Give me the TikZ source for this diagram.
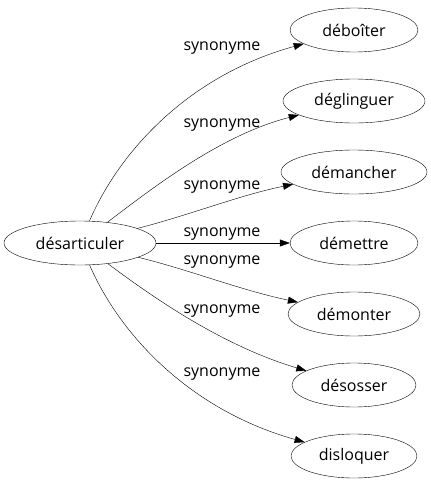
\documentclass[tikz,border=0pt]{standalone}
\usepackage{fontspec}
\setmainfont{Open Sans}
\usepackage{tikz}
\usetikzlibrary{shapes.geometric,arrows.meta}

\begin{document}
\begin{tikzpicture}[
    x=1pt, y=-1pt,
    word/.style={ellipse, draw, thin, inner sep=0pt, minimum height=44pt, font=\fontsize{16}{18}\selectfont},
    syn/.style={-{Triangle[length=10pt,width=7pt]}, thin},
    lbl/.style={font=\fontsize{16}{18}\selectfont, inner sep=1pt}
]
\useasboundingbox (0,0) rectangle (431,491);

% Source word
\node[word, minimum width=152pt] (desart) at (80,243) {désarticuler};

% Synonyms
\node[word, minimum width=128pt] (deboiter) at (354,30) {déboîter};
\node[word, minimum width=142pt] (deglinguer) at (354,101) {déglinguer};
\node[word, minimum width=146pt] (demancher) at (354,172) {démancher};
\node[word, minimum width=128pt] (demettre) at (354,243) {démettre};
\node[word, minimum width=132pt] (demonter) at (354,314) {démonter};
\node[word, minimum width=124pt] (desosser) at (354,385) {désosser};
\node[word, minimum width=126pt] (disloquer) at (354,456) {disloquer};

% Connectors
\draw[syn] (desart) .. controls (120,150) and (190,75) .. (deboiter) node[lbl] at (222,48) {synonyme};
\draw[syn] (desart) .. controls (150,190) and (220,135) .. (deglinguer) node[lbl] at (222,125) {synonyme};
\draw[syn] (desart) .. controls (190,215) and (240,195) .. (demancher) node[lbl] at (222,187) {synonyme};
\draw[syn] (desart) -- (demettre) node[lbl] at (222,234) {synonyme};
\draw[syn] (desart) .. controls (190,270) and (240,290) .. (demonter) node[lbl] at (222,262) {synonyme};
\draw[syn] (desart) .. controls (150,295) and (220,345) .. (desosser) node[lbl] at (222,311) {synonyme};
\draw[syn] (desart) .. controls (120,335) and (190,410) .. (disloquer) node[lbl] at (222,374) {synonyme};

\end{tikzpicture}
\end{document}
